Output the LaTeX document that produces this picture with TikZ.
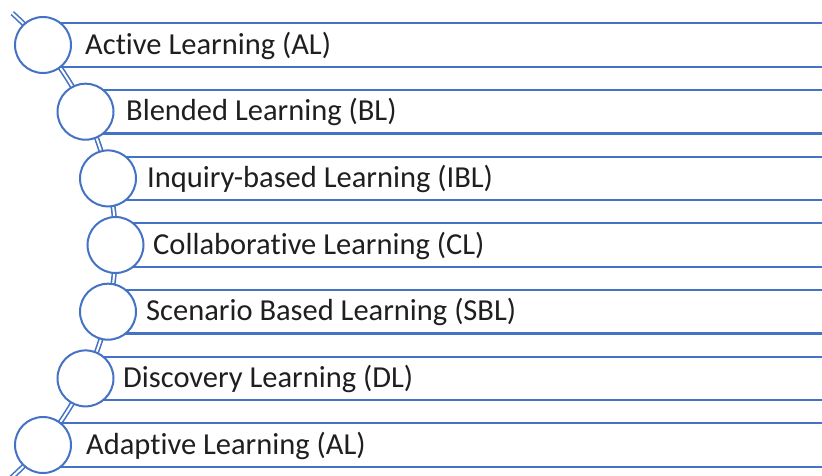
\documentclass[tikz,border=0pt]{standalone}
\usepackage{fontspec}
\setmainfont{Carlito}[Ligatures={NoCommon}]
\definecolor{oblue}{HTML}{4472C4}
\begin{document}
\begin{tikzpicture}[x=1pt,y=1pt,
  circ/.style={circle,draw=oblue,line width=2pt,fill=white,minimum size=56pt,inner sep=0pt},
  bar/.style={draw=oblue,line width=2.2pt,fill=white},
  spine/.style={draw=oblue,line width=1.6pt,double=white,double distance=2pt,line cap=butt},
  lbl/.style={anchor=west,inner sep=0pt,font=\fontsize{30.5}{30.5}\selectfont,text=black!88}]
\useasboundingbox (0,0) rectangle (822,475);
\clip (0,0) rectangle (822,475);
\coordinate (O) at (-196.5,230);
% spine arc
\draw[spine] (O) ++(48:312) arc[start angle=48,end angle=-52,radius=312];
% bars
\foreach \cx/\cy in {43/430, 85.5/363.3, 108/296.6, 115.5/230, 108/163.3, 85.5/96.6, 43/30}{
  \path[bar] (\cx,\cy-21.7) rectangle (832,\cy+21.7);
}
% circles
\node[circ] (c1) at (43,430) {};
\node[circ] (c2) at (85.5,363.3) {};
\node[circ] (c3) at (108,296.6) {};
\node[circ] (c4) at (115.5,230) {};
\node[circ] (c5) at (108,163.3) {};
\node[circ] (c6) at (85.5,96.6) {};
\node[circ] (c7) at (43,30) {};
% labels
\node[lbl] (t1) at (85,429.5) {Active Learning (AL)};
\node[lbl] (t2) at (126,362.8) {Blended Learning (BL)};
\node[lbl] (t3) at (147,296.1) {Inquiry-based Learning (IBL)};
\node[lbl] (t4) at (153,229.5) {Collaborative Learning (CL)};
\node[lbl] (t5) at (146,162.8) {Scenario Based Learning (SBL)};
\node[lbl] (t6) at (123,96.1) {Discovery Learning (DL)};
\node[lbl] (t7) at (86,29.5) {Adaptive Learning (AL)};
\end{tikzpicture}
\end{document}
